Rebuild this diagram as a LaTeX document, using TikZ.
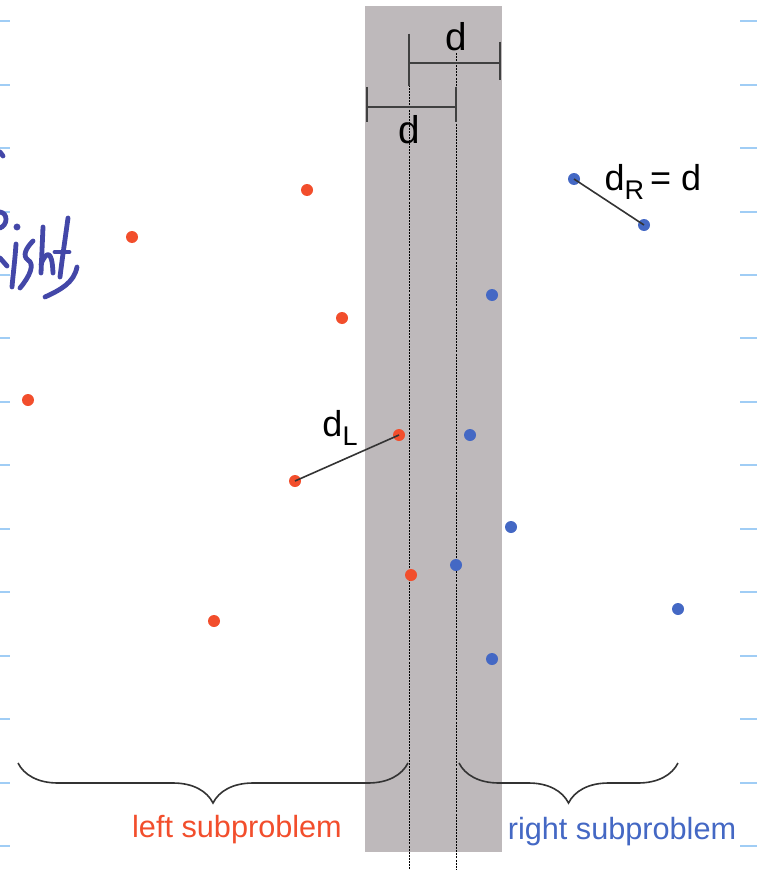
\documentclass[tikz,border=0pt]{standalone}
\usepackage{fontspec}
\setmainfont{Liberation Sans}
\usepackage{tikz}
\usetikzlibrary{positioning}
\usetikzlibrary{decorations.pathreplacing}
\definecolor{stripgray}{RGB}{190,185,187}
\definecolor{leftred}{RGB}{242,78,44}
\definecolor{rightblue}{RGB}{68,104,196}
\definecolor{marginblue}{RGB}{160,205,245}
\definecolor{inkblue}{RGB}{67,71,168}
\newcommand{\dsub}[1]{d\raisebox{-0.5ex}{\scalebox{0.75}{#1}}}

\begin{document}
\begin{tikzpicture}[x=0.75pt, y=-0.75pt]
% Styles:
\tikzset{lpt/.style={circle, fill=leftred, inner sep=0pt, minimum size=9pt}}
\tikzset{rpt/.style={circle, fill=rightblue, inner sep=0pt, minimum size=9pt}}
\tikzset{dline/.style={black, line width=0.75pt, dash pattern=on 1.5pt off 0.8pt}}
\tikzset{bar/.style={black!75, line width=1.2pt}}
\tikzset{mybrace/.style={decorate, black!80, line width=1.2pt, decoration={brace, mirror, amplitude=30pt}}}
\tikzset{ink/.style={inkblue, line width=3.6pt, line cap=round, line join=round}}

\useasboundingbox (0,0) rectangle (757,870);

% Margin ticks:
\foreach \y in {21,85,148,212,275,338,402,465,529,592,656,719,783,846} {
  \draw[marginblue, line width=1.2pt] (0,\y) -- (10,\y);
  \draw[marginblue, line width=1.2pt] (740,\y) -- (757,\y);
}

% Strip:
\fill[stripgray] (365,6) rectangle (502,852);

% Dividing lines:
\coordinate (mtop) at (409,85);
\coordinate (mbot) at (409,870);
\coordinate (stop) at (456,53);
\coordinate (sbot) at (456,870);
\draw[dline] (mtop) -- (mbot);
\draw[dline] (stop) -- (sbot);

% Width marks:
\coordinate (ua) at (409,63);
\coordinate (ub) at (500,63);
\coordinate (la) at (367,107);
\coordinate (lb) at (456,107);
\draw[bar] (ua) -- (ub);
\draw[bar] ([yshift=22pt]ua) -- ([yshift=-17pt]ua);
\draw[bar] ([yshift=16pt]ub) -- ([yshift=-13pt]ub);
\draw[bar] (la) -- (lb);
\draw[bar] ([yshift=15pt]la) -- ([yshift=-11pt]la);
\draw[bar] ([yshift=15pt]lb) -- ([yshift=-11pt]lb);
\node[font=\fontsize{29}{30}\selectfont] (dtop) at (456,37) {d};
\node[font=\fontsize{29}{30}\selectfont] (dbot) at (409,130) {d};

% Left points:
\node[lpt] (l1) at (307,190) {};
\node[lpt] (l2) at (132,237) {};
\node[lpt] (l3) at (342,318) {};
\node[lpt] (l4) at (28,400) {};
\node[lpt] (l5) at (399,435) {};
\node[lpt] (l6) at (295,481) {};
\node[lpt] (l7) at (411,575) {};
\node[lpt] (l8) at (214,621) {};

% Right points:
\node[rpt] (r1) at (574,179) {};
\node[rpt] (r2) at (644,225) {};
\node[rpt] (r3) at (492,295) {};
\node[rpt] (r4) at (470,435) {};
\node[rpt] (r5) at (511,527) {};
\node[rpt] (r6) at (456,565) {};
\node[rpt] (r7) at (678,609) {};
\node[rpt] (r8) at (492,659) {};

% Closest pairs:
\draw[black!80, line width=1.2pt] (l6.center) -- (l5.center);
\draw[black!80, line width=1.2pt] (r1.center) -- (r2.center);
\node[font=\fontsize{27}{28}\selectfont] (dl) at (340,428) {\dsub{L}};
\node[font=\fontsize{27}{28}\selectfont, anchor=west] (dr) at (600,182) {\dsub{R}\,= d};

% Braces:
\coordinate (bl1) at (18,763);
\coordinate (bl2) at (408,763);
\coordinate (br1) at (459,763);
\coordinate (br2) at (678,763);
\draw[mybrace] (bl1) -- (bl2);
\draw[mybrace] (br1) -- (br2);
\node[text=leftred, font=\fontsize{23}{24}\selectfont] (lsub) at (237,830) {left subproblem};
\node[text=rightblue, font=\fontsize{23}{24}\selectfont] (rsub) at (622,832) {right subproblem};

% Handwriting:
\draw[ink] (0,152) -- (3,156);
\draw[ink] (0,212) .. controls (8,213) and (8,225) .. (0,228);
\draw[ink] (0,258) -- (7,266);
\fill[inkblue] (17,227) circle (2.6pt);
\draw[ink] (16,244) .. controls (15,260) and (13,275) .. (12,287);
\draw[ink] (33,241) .. controls (26,248) and (22,256) .. (28,260) .. controls (35,264) and (30,276) .. (20,288);
\draw[ink] (43,227) -- (41,273);
\draw[ink] (41,264) .. controls (46,252) and (52,248) .. (53,273);
\draw[ink] (68,218) .. controls (65,240) and (62,260) .. (60,277);
\draw[ink] (55,252) -- (69,252);
\draw[ink] (77,267) .. controls (74,283) and (60,290) .. (45,297);
\end{tikzpicture}
\end{document}
